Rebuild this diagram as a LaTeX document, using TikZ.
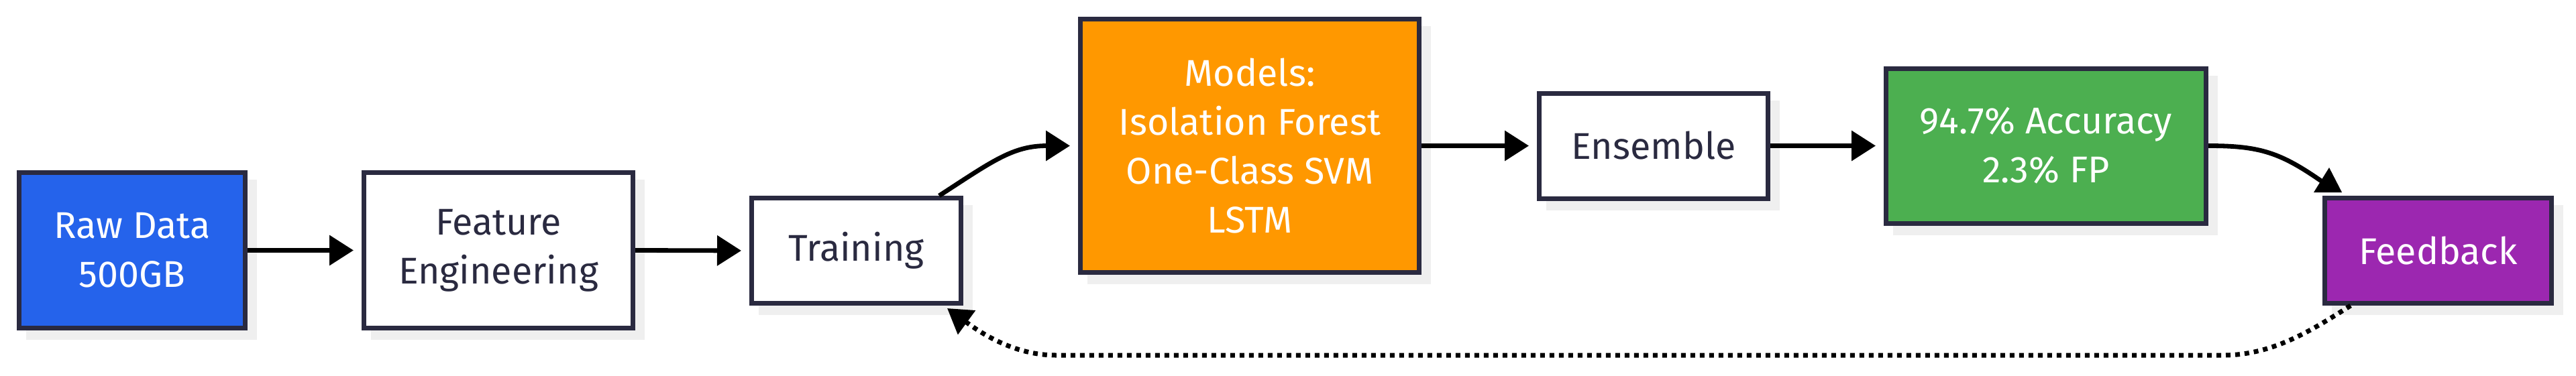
\documentclass[tikz,border=0pt]{standalone}
\usepackage{fontspec}
\setmainfont{Fira Sans}
\usetikzlibrary{arrows.meta}
\usetikzlibrary{shadows}
\usetikzlibrary{calc}

\definecolor{navy}{HTML}{2A2A40}
\definecolor{shadowgray}{HTML}{EFEFEF}
\definecolor{rawblue}{HTML}{2563EB}
\definecolor{modelorange}{HTML}{FF9800}
\definecolor{accgreen}{HTML}{4CAF50}
\definecolor{fbpurple}{HTML}{9C27B0}

\begin{document}
\begin{tikzpicture}[
    box/.style={rectangle, draw=navy, fill=white, text=navy, line width=0.07cm,
        align=center, font=\fontsize{15.8}{20.8}\selectfont,
        general shadow={fill=shadowgray, draw=shadowgray, line width=0.07cm,
            shadow xshift=0.14cm, shadow yshift=-0.14cm}},
    flow/.style={line width=0.068cm, -{Triangle[length=0.36cm, width=0.44cm]}},
    loop/.style={line width=0.07cm, dash pattern=on 0.07cm off 0.07cm,
        -{Triangle[length=0.36cm, width=0.43cm]}}
]
    \fill[white] (0,0) rectangle (38.4,-5.6);
    \useasboundingbox (0,0) rectangle (38.4,-5.6);

    % pipeline stages
    \node[box, fill=rawblue, text=white, minimum width=3.37cm, minimum height=2.32cm] (raw) at (1.97,-3.735) {Raw Data\\500GB};
    \node[box, minimum width=4.01cm, minimum height=2.32cm] (feat) at (7.43,-3.735) {Feature\\Engineering};
    \node[box, minimum width=3.12cm, minimum height=1.57cm] (train) at (12.765,-3.74) {Training};
    \node[box, fill=modelorange, text=white, minimum width=5.05cm, minimum height=3.78cm] (models) at (18.63,-2.175) {Models:\\Isolation Forest\\One-Class SVM\\LSTM};
    \node[box, minimum width=3.41cm, minimum height=1.57cm] (ens) at (24.65,-2.175) {Ensemble};
    \node[box, fill=accgreen, text=white, minimum width=4.77cm, minimum height=2.31cm] (acc) at (30.50,-2.175) {94.7\% Accuracy\\2.3\% FP};
    \node[box, fill=fbpurple, text=white, minimum width=3.38cm, minimum height=1.57cm] (fb) at (36.345,-3.74) {Feedback};

    % straight links
    \draw[flow, shorten >=0.12cm] (raw.east) -- (feat.west);
    \draw[flow, shorten >=0.12cm] (feat.east) -- (train.west);
    \draw[flow, shorten >=0.12cm] (models.east) -- (ens.west);
    \draw[flow, shorten >=0.12cm] (ens.east) -- (acc.west);

    % training up to models
    \draw[flow] ([xshift=-0.36cm]train.north east) .. controls +(0.8,0.52) and +(-0.85,0) .. ([xshift=-0.12cm]models.west);

    % accuracy down to feedback (tip sits upright on the box)
    \coordinate (fbin) at ([shift={(0.01,0.20)}]fb.north west);
    \draw[line width=0.068cm] (acc.east) .. controls +(0.78,0) and +(-0.63,0.44) .. (fbin);
    \fill ([shift={(0.10,0.42)}]fb.north west) -- ([shift={(-0.13,0.05)}]fb.north west) -- ([shift={(0.29,0.05)}]fb.north west) -- cycle;

    % feedback loop back to training
    \coordinate (loopR) at (33.14,-5.30);
    \coordinate (loopL) at (15.74,-5.30);
    \draw[loop] ([xshift=0.42cm]fb.south west) .. controls +(-0.54,-0.34) and +(0.76,0) .. (loopR)
        -- (loopL) .. controls +(-0.64,0) and +(0.48,-0.35) .. ([shift={(-0.24,-0.04)}]train.south east);

\end{tikzpicture}
\end{document}
